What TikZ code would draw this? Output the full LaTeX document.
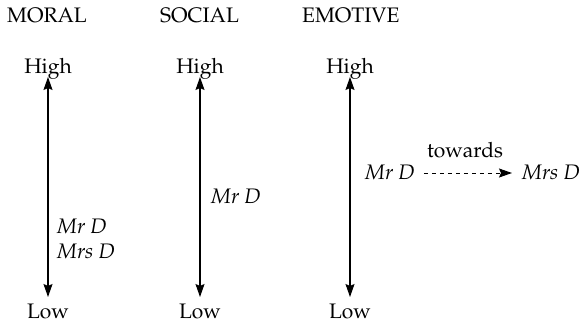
\documentclass[tikz,border=0pt]{standalone}
\IfFileExists{mathpazo.sty}{\usepackage[T1]{fontenc}\usepackage{mathpazo}\newcommand\labsize{21}}{\usepackage{fontspec}\setmainfont{Liberation Serif}\newcommand\labsize{21}}
\usetikzlibrary{arrows.meta}
\begin{document}
\begin{tikzpicture}[x=1pt,y=1pt,
  lab/.style={inner sep=0pt,font=\fontsize{\labsize}{24}\selectfont},
  tip/.tip={Stealth[length=13pt,width=9pt,inset=2pt]},
  axisline/.style={line width=1.1pt,tip-tip},
  dashline/.style={line width=1pt,dash pattern=on 4.5pt off 3.5pt,-tip}]
\useasboundingbox (0,0) rectangle (581,-324);
% headings
\node[lab,anchor=base west] (h1) at (7,-23) {MORAL};
\node[lab,anchor=base west] (h2) at (160,-23) {SOCIAL};
\node[lab,anchor=base west] (h3) at (302,-23) {EMOTIVE};
% high / low
\foreach \i/\x in {1/48,2/200,3/350}{
  \node[lab,anchor=base] (hi\i) at (\x,-73) {High};
  \node[lab,anchor=base] (lo\i) at (\x,-318) {Low};
  \coordinate (t\i) at (\x,-77);
  \coordinate (b\i) at (\x,-297);
  \draw[axisline] (b\i) -- (t\i);
}
% moral
\node[lab,anchor=base west] (m1) at (57,-233) {\itshape Mr D};
\node[lab,anchor=base west] (m2) at (57,-258) {\itshape Mrs D};
% social
\node[lab,anchor=base west] (s1) at (211,-203) {\itshape Mr D};
% emotive
\node[lab,anchor=base west] (e1) at (365,-179) {\itshape Mr D};
\node[lab,anchor=base west] (e2) at (522,-179) {\itshape Mrs D};
\node[lab,anchor=base] (tw) at (465,-157) {towards};
\coordinate (d1) at ([xshift=9pt,yshift=6pt]e1.base east);
\coordinate (d2) at ([xshift=-10pt,yshift=6pt]e2.base west);
\draw[dashline] (d1) -- (d2);
\end{tikzpicture}
\end{document}
